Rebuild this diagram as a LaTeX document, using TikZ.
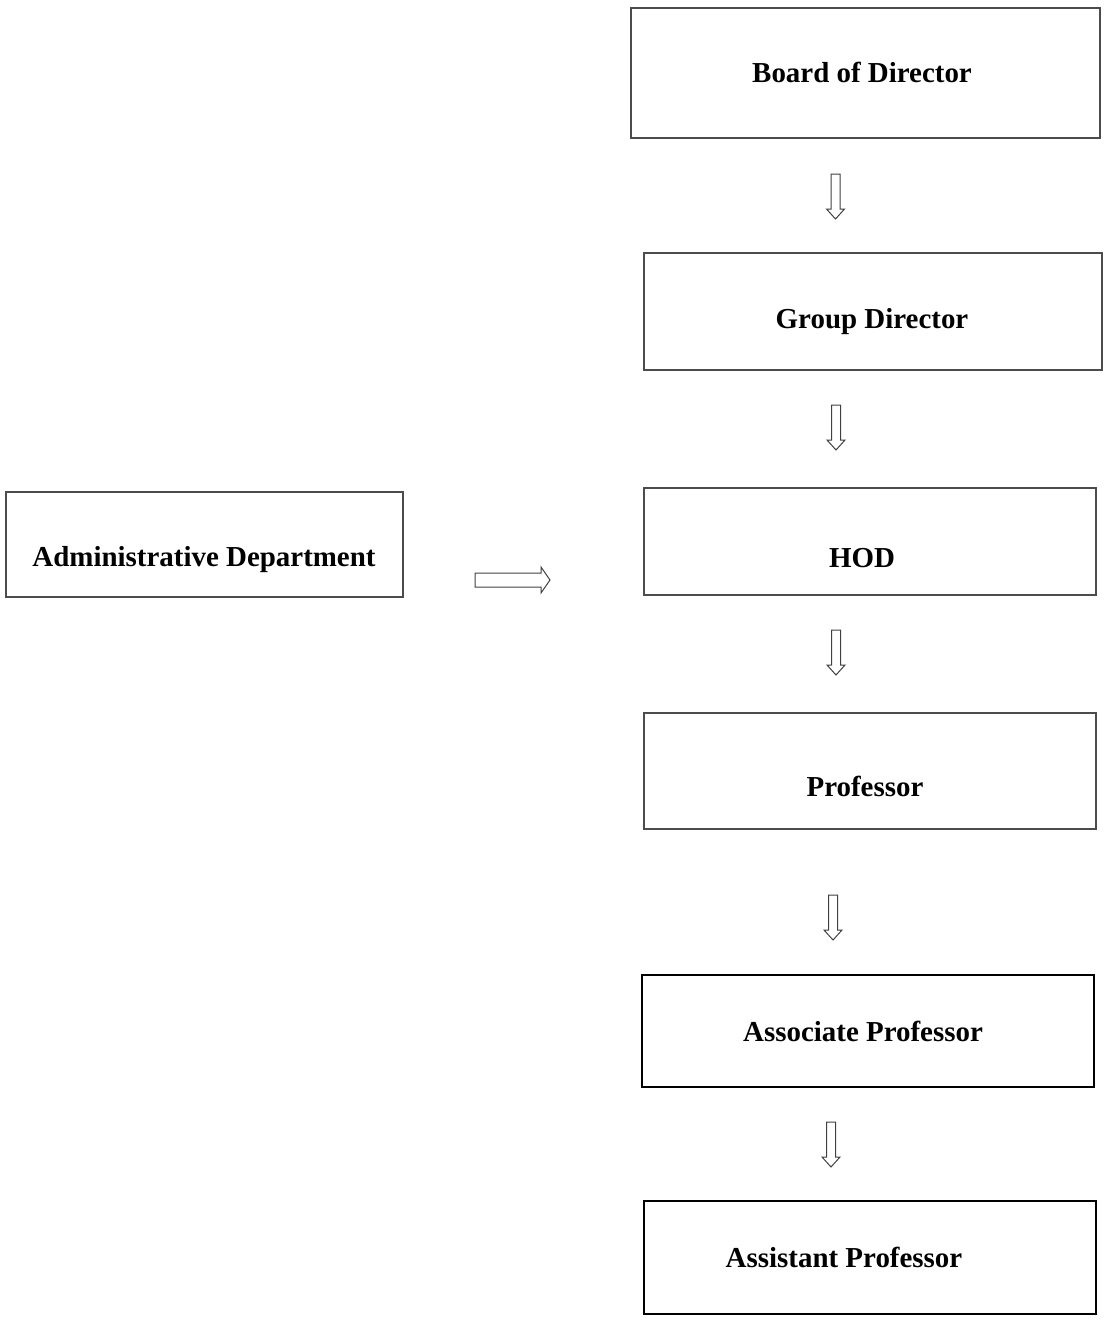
\documentclass[tikz,border=0pt]{standalone}
\usepackage{fontspec}
\setmainfont{Liberation Serif}

\tikzset{
	thinbox/.style={draw=black!70, line width=0.8pt},
	thickbox/.style={draw=black, line width=1.5pt},
	lbl/.style={anchor=base, inner sep=0pt, font=\fontsize{21.7}{26}\selectfont\bfseries},
	arrline/.style={draw=black!75, line width=0.75pt}
}
% hollow block arrows
\newcommand{\downarr}[2]{\draw[arrline] (#1-4.5,#2) -- (#1+4.5,#2) -- (#1+4.5,#2+35) -- (#1+9,#2+35) -- (#1,#2+45) -- (#1-9,#2+35) -- (#1-4.5,#2+35) -- cycle;}

\begin{document}
\begin{tikzpicture}[x=0.75pt,y=-0.75pt]
	\useasboundingbox (0,0) rectangle (1103,1320);

	\draw[thinbox] (631,8) rectangle (1100,138);
	\node[lbl] (bod) at (862,83) {Board of Director};
	\downarr{835.5}{174}

	\draw[thinbox] (644,253) rectangle (1102,370);
	\node[lbl] (gd) at (872,328) {Group Director};
	\downarr{836}{405}

	\draw[thinbox] (644,488) rectangle (1096,595);
	\node[lbl] (hod) at (862,567) {HOD};
	\downarr{836}{630}

	\draw[thinbox] (644,713) rectangle (1096,829);
	\node[lbl] (prof) at (865,796) {Professor};
	\downarr{833}{895}

	\draw[thickbox] (642,975) rectangle (1094,1087);
	\node[lbl] (asso) at (863,1041) {Associate Professor};
	\downarr{831}{1122}

	\draw[thickbox] (644,1201) rectangle (1096,1314);
	\node[lbl] (assi) at (844,1267) {Assistant Professor};

	\draw[thinbox] (6,492) rectangle (403,597);
	\node[lbl] (admin) at (204,566) {Administrative Department};
	\draw[arrline] (475,573) -- (541,573) -- (541,567) -- (550,580) -- (541,593) -- (541,587) -- (475,587) -- cycle;

\end{tikzpicture}
\end{document}
